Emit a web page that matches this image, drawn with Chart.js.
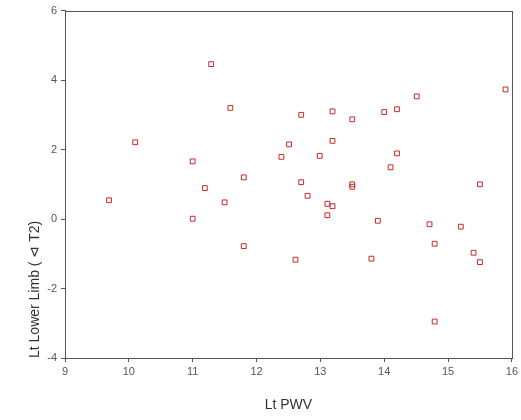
<!DOCTYPE html>
<html>
<head>
<meta charset="utf-8">
<script src="https://cdn.jsdelivr.net/npm/chart.js@4/dist/chart.umd.min.js"></script>
<style>
  html, body { margin: 0; padding: 0; background: #fff; }
  #wrap { width: 521px; height: 420px; position: relative; }
</style>
</head>
<body>
<div id="wrap"><canvas id="c"></canvas></div>
<script>
// Data
const ltPWV = [11.29, 11.59, 10.10, 12.51, 12.39, 11.00, 11.80, 11.19, 12.70, 13.19,
               13.50, 14.00, 14.20, 14.51, 15.90, 13.19, 12.99, 14.20, 14.10, 12.70,
               13.50, 13.50, 15.50, 12.80, 13.11, 13.19, 13.11, 13.90, 14.71, 15.20,
               14.79, 15.40, 15.50, 12.61, 13.80, 14.79, 9.69, 11.50, 11.00, 11.80];
const ltLowerLimb = [4.46, 3.20, 2.21, 2.15, 1.79, 1.66, 1.20, 0.89, 3.00, 3.10,
                     2.87, 3.08, 3.16, 3.53, 3.73, 2.25, 1.82, 1.89, 1.49, 1.06,
                     1.00, 0.93, 1.00, 0.67, 0.44, 0.37, 0.11, -0.05, -0.15, -0.22,
                     -0.71, -0.97, -1.24, -1.17, -1.14, -2.95, 0.54, 0.48, 0.01, -0.78];
const xTicks = [9, 10, 11, 12, 13, 14, 15, 16];
const yTicks = [-4, -2, 0, 2, 4, 6];
const xTitle = 'Lt PWV';
const yTitle = 'Lt Lower Limb ( \u22B2 T2)';

const points = ltPWV.map((x, i) => ({ x: x, y: ltLowerLimb[i] }));

const frame = {
  id: 'frame',
  afterDatasetsDraw(chart) {
    const a = chart.chartArea, ctx = chart.ctx;
    ctx.save();
    ctx.strokeStyle = '#555';
    ctx.lineWidth = 1;
    ctx.strokeRect(Math.round(a.left) + 0.5, Math.round(a.top) + 0.5,
                   Math.round(a.right - a.left), Math.round(a.bottom - a.top));
    ctx.restore();
  }
};

new Chart(document.getElementById('c'), {
  type: 'scatter',
  data: {
    datasets: [{
      data: points,
      pointStyle: 'rect',
      pointRadius: 3.4,
      pointHoverRadius: 3.4,
      borderColor: 'rgb(200,40,40)',
      backgroundColor: 'rgba(255,255,255,0)',
      borderWidth: 1
    }]
  },
  options: {
    responsive: true,
    maintainAspectRatio: false,
    animation: false,
    events: [],
    layout: { padding: { left: 0, top: 4, right: 7, bottom: 0 } },
    plugins: { legend: { display: false }, tooltip: { enabled: false } },
    scales: {
      x: {
        type: 'linear',
        min: xTicks[0], max: xTicks[xTicks.length - 1],
        afterBuildTicks: s => { s.ticks = xTicks.map(v => ({ value: v })); },
        ticks: { font: { family: 'Liberation Sans, Arial', size: 11 }, color: '#555', padding: 3, maxRotation: 0 },
        grid: { display: true, drawOnChartArea: false, drawTicks: true, tickLength: 4, tickColor: '#555' },
        border: { display: true, color: '#555' },
        title: { display: true, text: xTitle, color: '#333',
                 font: { family: 'Liberation Sans, Arial', size: 14 }, padding: { top: 18, bottom: 6 } },
        afterFit: s => { s.height = 62; }
      },
      y: {
        type: 'linear',
        min: yTicks[0], max: yTicks[yTicks.length - 1],
        afterBuildTicks: s => { s.ticks = yTicks.map(v => ({ value: v })); },
        ticks: { font: { family: 'Liberation Sans, Arial', size: 11 }, color: '#555', padding: 4 },
        grid: { display: true, drawOnChartArea: false, drawTicks: true, tickLength: 4, tickColor: '#555' },
        border: { display: true, color: '#555' },
        title: { display: true, text: yTitle, color: '#333', align: 'start',
                 font: { family: 'Liberation Sans, Arial', size: 14 }, padding: { top: 27, bottom: 0 } },
        afterFit: s => { s.width = 65; }
      }
    }
  },
  plugins: [frame]
});
</script>
</body>
</html>
